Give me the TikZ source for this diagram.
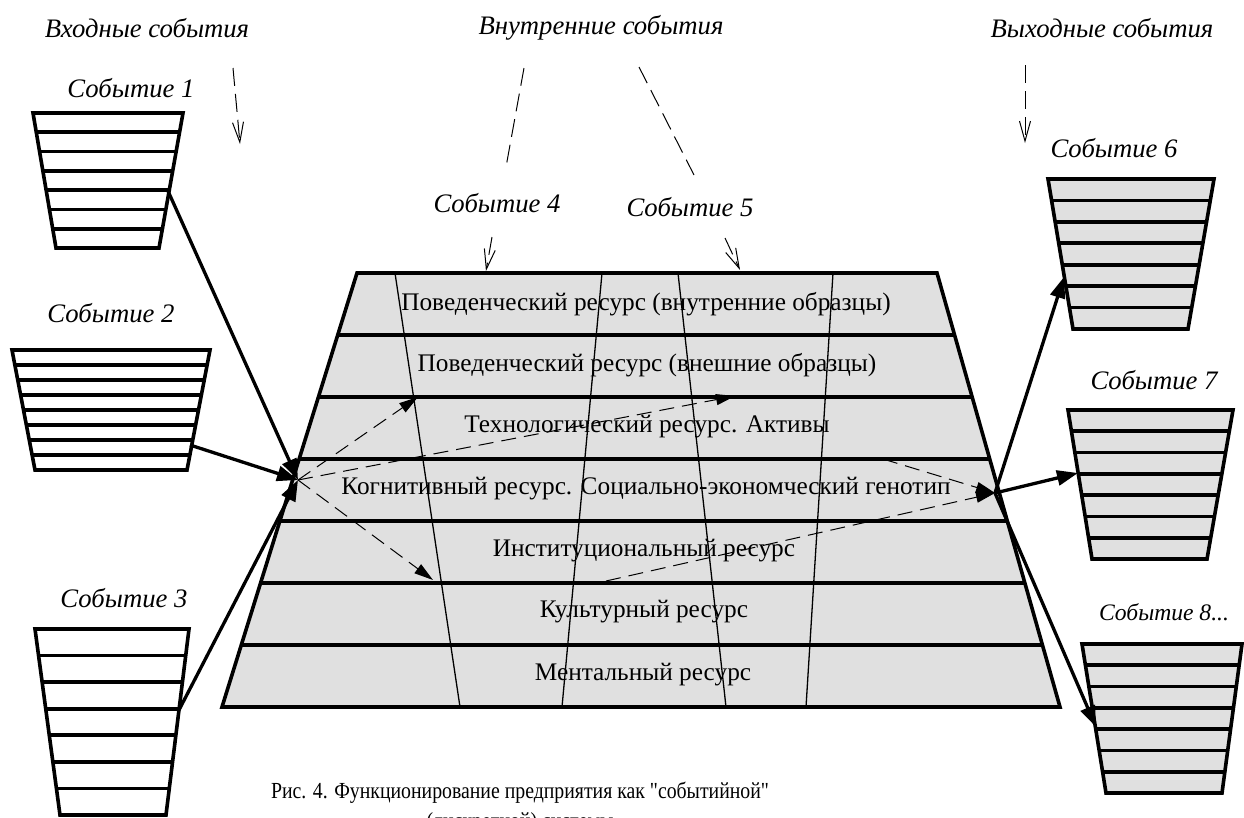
\documentclass[tikz,border=0pt]{standalone}
\usepackage{fontspec}
\setmainfont{Liberation Serif}
\newfontfamily\capfont{Liberation Serif}
\usetikzlibrary{arrows.meta,calc}
\definecolor{panel}{RGB}{224,224,224}
\newcommand{\evbucket}[9]{%
  \fill[#9] (#2,#4) -- (#3,#4) -- (#6,#7) -- (#5,#7) -- cycle;
  \foreach \k in {1,...,#8} {
    \draw[heavy] ($(#2,#4)!\k/#8!(#5,#7)$) -- ($(#3,#4)!\k/#8!(#6,#7)$);
  }
  \draw[heavy] (#2,#4) -- (#3,#4) -- (#6,#7) -- (#5,#7) -- cycle;
  \coordinate (#1-tl) at (#2,#4);
}
\begin{document}
\begin{tikzpicture}[x=1pt,y=-1pt,
  evlbl/.style={font=\itshape\fontsize{26.7}{31}\selectfont, inner sep=0pt},
  smalllbl/.style={font=\itshape\fontsize{23.6}{28}\selectfont, inner sep=0pt},
  rowlbl/.style={font=\fontsize{25.3}{30}\selectfont, inner sep=0pt},
  caplbl/.style={font=\capfont\fontsize{23}{28}\selectfont, inner sep=0pt},
  heavy/.style={line width=3.6pt},
  colline/.style={line width=1.3pt},
  flow/.style={line width=3.3pt, -{Triangle[length=21pt,width=15pt]}},
  innerflow/.style={line width=1pt, dash pattern=on 15pt off 8pt, -{Triangle[length=19pt,width=11pt]}},
  hint/.style={line width=1pt, dash pattern=on 18pt off 8pt},
  hintarrow/.style={hint, -{Straight Barb[length=20pt,width=11pt]}}]
\useasboundingbox (0,0) rectangle (1244,817);

% ---------- central trapezoid ----------
\coordinate (TL) at (357,273);
\coordinate (TR) at (937,273);
\coordinate (BL) at (222,707);
\coordinate (BR) at (1060,707);
\fill[panel] (TL) -- (TR) -- (BR) -- (BL) -- cycle;
\draw[colline] (395,273) -- (460,707);
\draw[colline] (602,273) -- (562,707);
\draw[colline] (678,273) -- (726,707);
\draw[colline] (833,273) -- (806,707);
\foreach \i in {1,...,6} {
  \draw[heavy] ($(TL)!\i/7!(BL)$) -- ($(TR)!\i/7!(BR)$);
}
\draw[heavy] (TL) -- (TR) -- (BR) -- (BL) -- cycle;

\node[rowlbl] (r1) at (646,304) {Поведенческий ресурс (внутренние образцы)};
\node[rowlbl] (r2) at (647,365) {Поведенческий ресурс (внешние образцы)};
\node[rowlbl] (r3) at (647,427) {Технологический ресурс. Активы};
\node[rowlbl] (r4) at (646,489) {Когнитивный ресурс. Социально-экономческий генотип};
\node[rowlbl] (r5) at (644,551) {Институциональный ресурс};
\node[rowlbl] (r6) at (644,612) {Культурный ресурс};
\node[rowlbl] (r7) at (643,675) {Ментальный ресурс};

% ---------- event stacks ----------
\evbucket{s1}{33}{183}{113}{56}{159}{248}{7}{white}
\evbucket{s2}{12}{210}{350}{35}{187}{470}{8}{white}
\evbucket{s3}{35}{189}{629}{60}{166}{815}{7}{white}
\evbucket{s6}{1048}{1214}{179}{1073}{1188}{329}{7}{panel}
\evbucket{s7}{1068}{1233}{410}{1092}{1207}{559}{7}{panel}
\evbucket{s8}{1082}{1242}{644}{1106}{1222}{793}{7}{panel}

% ---------- labels ----------
\node[evlbl] (inlbl) at (147,28) {Входные события};
\node[evlbl] (intlbl) at (601,28) {Внутренние события};
\node[evlbl] (outlbl) at (1102,28) {Выходные события};
\node[evlbl] (e1) at (131,88) {Событие 1};
\node[evlbl] (e2) at (111,313) {Событие 2};
\node[evlbl] (e3) at (124,598) {Событие 3};
\node[evlbl] (e4) at (497,203) {Событие 4};
\node[evlbl] (e5) at (690,207) {Событие 5};
\node[evlbl] (e6) at (1114,148) {Событие 6};
\node[evlbl] (e7) at (1154,380) {Событие 7};
\node[smalllbl] (e8) at (1164,612) {Событие 8...};
\node[caplbl] (cap1) at (520,793) {\scalebox{0.86}[1]{Рис. 4. Функционирование предприятия как "событийной"}};
\node[caplbl] (cap2) at (520,823) {\scalebox{0.86}[1]{(дискретной) системы}};

% ---------- connector end points ----------
\coordinate (J1) at (298,480);
\coordinate (J2) at (995,493);
\coordinate (s1out) at (168,191);
\coordinate (s2out) at (190,445);
\coordinate (s3out) at (179,710);
\coordinate (s6in) at (1064,277);
\coordinate (s7in) at (1078,473);
\coordinate (s8in) at (1096,727);
\coordinate (d1) at (418,397);
\coordinate (d2) at (735,396);
\coordinate (d3) at (433,580);
\coordinate (u1) at (883,459);
\coordinate (u2) at (606,581);

% ---------- thick flows ----------
\draw[flow] (s1out) -- (J1);
\draw[flow] (s2out) -- (J1);
\draw[flow] (s3out) -- (J1);
\draw[flow] (J2) -- (s6in);
\draw[flow] (J2) -- (s7in);
\draw[flow] (J2) -- (s8in);

% ---------- internal dashed flows ----------
\draw[innerflow] (J1) -- (d1);
\draw[innerflow] (J1) -- (d2);
\draw[innerflow] (J1) -- (d3);
\draw[innerflow] (u1) -- (J2);
\draw[innerflow] (u2) -- (J2);

% ---------- hint arrows at the top ----------
\coordinate (h1a) at (233,68);
\coordinate (h1b) at (240,144);
\coordinate (h2a) at (1025,65);
\coordinate (h2b) at (1025,143);
\coordinate (h3a) at (524,68);
\coordinate (h3b) at (506,167);
\coordinate (h4a) at (639,67);
\coordinate (h4b) at (694,175);
\coordinate (h5a) at (492,237);
\coordinate (h5b) at (486,271);
\coordinate (h6a) at (725,238);
\coordinate (h6b) at (740,270);
\draw[hintarrow] (h1a) -- (h1b);
\draw[hintarrow] (h2a) -- (h2b);
\draw[hint] (h3a) -- (h3b);
\draw[hint] (h4a) -- (h4b);
\draw[hintarrow] (h5a) -- (h5b);
\draw[hintarrow] (h6a) -- (h6b);
\end{tikzpicture}
\end{document}
